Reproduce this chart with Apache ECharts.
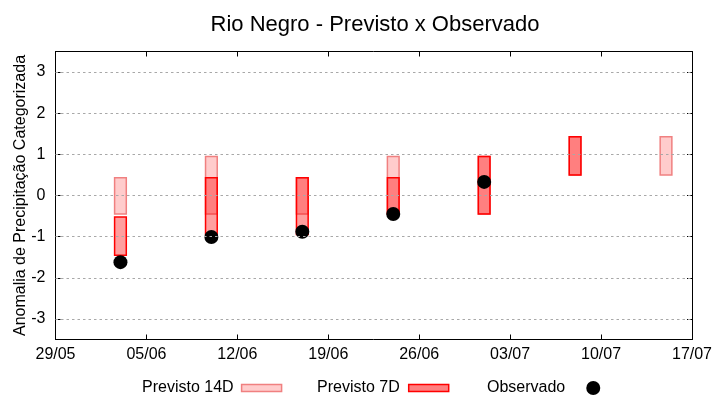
<!DOCTYPE html>
<html>
<head>
<meta charset="utf-8">
<script src="https://cdn.jsdelivr.net/npm/echarts@6/dist/echarts.min.js"></script>
<style>html,body{margin:0;padding:0;background:#fff}#c{width:720px;height:400px}</style>
</head>
<body>
<div id="c"></div>
<script>
// ---- data ----
var startDate = '29/05';
var xTickLabels = ['29/05','05/06','12/06','19/06','26/06','03/07','10/07','17/07'];
var yTicks = [-3,-2,-1,0,1,2,3];
var forecastDates = ['03/06','10/06','17/06','24/06','01/07','08/07','15/07'];
var prev14Low  = [-0.45, -0.45, -0.45, -0.45, -0.45, 0.50, 0.50];
var prev14High = [ 0.43,  0.95,  0.43,  0.95,  0.95, 1.43, 1.43];
var prev7Low   = [-1.45, -0.95, -0.95, -0.45, -0.45, 0.50, null];
var prev7High  = [-0.52,  0.43,  0.43,  0.43,  0.95, 1.43, null];
var observed   = [-1.62, -1.01, -0.88, -0.45,  0.33, null, null];

var YEAR = 2025;
function toUTC(s){ var p = s.split('/'); return Date.UTC(YEAR, +p[1]-1, +p[0]); }
function dayOffset(s){ return Math.round((toUTC(s) - toUTC(startDate)) / 86400000); }

function rangeData(lo, hi){
  var out = [];
  forecastDates.forEach(function(d,i){
    if (lo[i] != null && hi[i] != null) out.push([dayOffset(d), lo[i], hi[i]]);
  });
  return out;
}
var obsData = [];
forecastDates.forEach(function(d,i){ if (observed[i] != null) obsData.push([dayOffset(d), observed[i]]); });

var BAR_W = 0.9;
function makeRender(fill, stroke){
  return function(params, api){
    var x = api.value(0), lo = api.value(1), hi = api.value(2);
    var p1 = api.coord([x - BAR_W/2, hi]);
    var p2 = api.coord([x + BAR_W/2, lo]);
    return {type:'rect', shape:{x:p1[0], y:p1[1], width:p2[0]-p1[0], height:p2[1]-p1[1]},
            style:{fill:fill, stroke:stroke, lineWidth:1.5}};
  };
}

var FONT = 'Liberation Sans';
var C14F = 'rgba(255,0,0,0.2)', C14S = '#f08080';
var C7F = 'rgba(255,0,0,0.375)', C7S = '#ff0000';

var chart = echarts.init(document.getElementById('c'));
chart.setOption({
  animation:false,
  backgroundColor:'#fff',
  textStyle:{fontFamily:FONT},
  title:{text:'Rio Negro - Previsto x Observado', left:370, top:9, textAlign:'center',
         textStyle:{fontSize:22, fontWeight:'normal', color:'#000', fontFamily:FONT}},
  legend:[
    {left:142, top:380, padding:0, align:'right', itemWidth:40, itemHeight:7, selectedMode:false,
     textStyle:{fontSize:16, color:'#000', fontFamily:FONT, padding:[0,3,0,0]},
     data:[{name:'Previsto 14D', icon:'rect', itemStyle:{color:C14F, borderColor:C14S, borderWidth:1.5}}]},
    {left:317, top:380, padding:0, align:'right', itemWidth:40, itemHeight:7, selectedMode:false,
     textStyle:{fontSize:16, color:'#000', fontFamily:FONT, padding:[0,4,0,0]},
     data:[{name:'Previsto 7D', icon:'rect', itemStyle:{color:'rgba(255,0,0,0.5)', borderColor:C7S, borderWidth:1.5}}]},
    {left:487, top:380, padding:0, align:'right', itemWidth:14, itemHeight:14, selectedMode:false,
     textStyle:{fontSize:16, color:'#000', fontFamily:FONT, padding:[0,16,0,0]},
     data:[{name:'Observado', icon:'circle', itemStyle:{color:'#000'}}]}
  ],
  grid:{left:55.5, right:28, top:51.5, bottom:60.5, containLabel:false, outerBoundsMode:'none'},
  xAxis:[
    {type:'value', min:0, max:49, interval:7, position:'bottom',
     axisLine:{show:true, onZero:false, lineStyle:{color:'#000', width:1}},
     axisTick:{show:true, inside:true, length:5, lineStyle:{color:'#000'}},
     axisLabel:{fontSize:16, color:'#000', margin:7, fontFamily:FONT,
       formatter:function(v){ return xTickLabels[Math.round(v/7)] || ''; }},
     splitLine:{show:false}},
    {type:'value', min:0, max:49, interval:7, position:'top',
     axisLine:{show:true, onZero:false, lineStyle:{color:'#000', width:1}},
     axisTick:{show:true, inside:true, length:5, lineStyle:{color:'#000'}},
     axisLabel:{show:false}, splitLine:{show:false}}
  ],
  yAxis:[
    {type:'value', min:-3.5, max:3.5, position:'left',
     name:'Anomalia de Precipitação Categorizada', nameLocation:'middle', nameGap:27, nameMoveOverlap:false,
     nameTextStyle:{fontSize:16, color:'#000', fontFamily:FONT},
     axisLine:{show:true, onZero:false, lineStyle:{color:'#000', width:1}},
     axisTick:{show:true, inside:true, length:5, customValues:yTicks, lineStyle:{color:'#000'}},
     axisLabel:{fontSize:16, color:'#000', margin:10, customValues:yTicks, fontFamily:FONT},
     splitLine:{show:false}},
    {type:'value', min:-3.5, max:3.5, position:'right',
     axisLine:{show:true, onZero:false, lineStyle:{color:'#000', width:1}},
     axisTick:{show:true, inside:true, length:5, customValues:yTicks, lineStyle:{color:'#000'}},
     axisLabel:{show:false}, splitLine:{show:false}}
  ],
  series:[
    {name:'grid', type:'line', data:[], silent:true, z:1,
     markLine:{silent:true, symbol:'none', animation:false, label:{show:false},
       lineStyle:{color:'#a8a8a8', type:[2.5,3], width:1},
       data:yTicks.map(function(v){ return {yAxis:v}; })}},
    {name:'Previsto 14D', type:'custom', renderItem:makeRender(C14F, C14S), data:rangeData(prev14Low, prev14High), z:2,
     itemStyle:{color:C14F, borderColor:C14S}},
    {name:'Previsto 7D', type:'custom', renderItem:makeRender(C7F, C7S), data:rangeData(prev7Low, prev7High), z:3,
     itemStyle:{color:C7F, borderColor:C7S}},
    {name:'Observado', type:'scatter', symbol:'circle', symbolSize:14, data:obsData, z:4,
     itemStyle:{color:'#000', opacity:1}}
  ]
});
</script>
</body>
</html>
